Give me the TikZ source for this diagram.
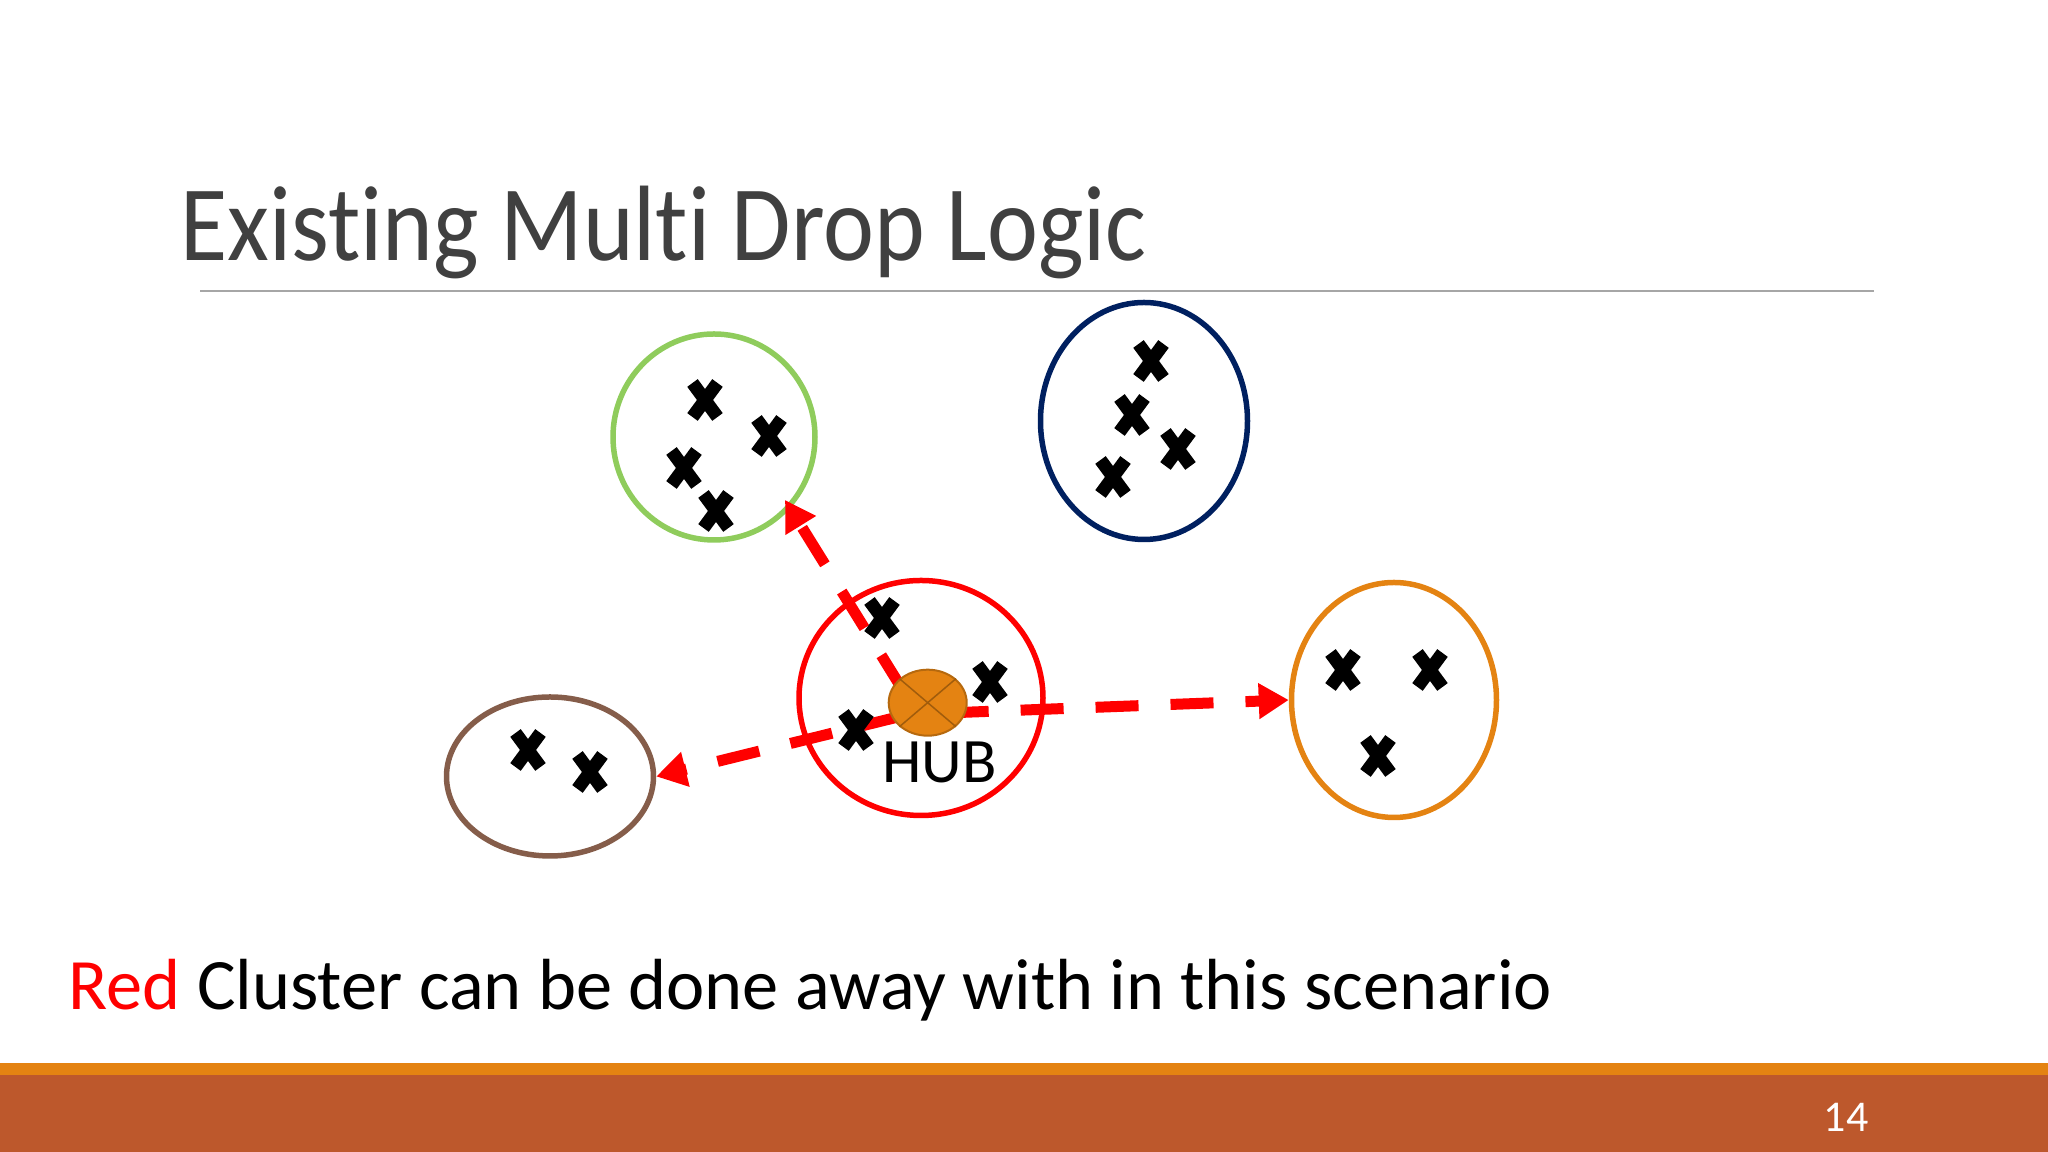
\documentclass[tikz,border=0pt]{standalone}
\usepackage{fontspec}
\setmainfont[Ligatures=NoCommon]{Carlito}
\newfontfamily\titlefont[Ligatures=NoCommon,FakeStretch=.9]{Carlito}
\usetikzlibrary{arrows.meta,shapes.geometric,shapes.misc,backgrounds}
\definecolor{barorange}{HTML}{E48312}
\definecolor{barrust}{HTML}{BD582C}
\definecolor{ringgreen}{HTML}{8FCC5C}
\definecolor{ringnavy}{HTML}{002060}
\definecolor{ringbrown}{HTML}{855D4A}
\definecolor{titlegray}{HTML}{404040}
\tikzset{
  clusterring/.style={draw, ellipse, inner sep=0pt, line width=.055cm},
  crossmark/.style={draw=black, cross out, inner sep=0pt, line width=.13cm,
    minimum width=.12cm, minimum height=.21cm},
  droparrow/.style={red, line width=.11cm, dash pattern=on .43cm off .32cm,
    -{Triangle[length=.3cm,width=.34cm]}}
}
\begin{document}
\begin{tikzpicture}
  \useasboundingbox (0,0) rectangle (20.48,11.52);

  % barra inferior
  \fill[barrust] (0,0) rectangle (20.48,.77);
  \fill[barorange] (0,.77) rectangle (20.48,.89);
  \node[anchor=base, white, font=\fontsize{12.5}{15}\selectfont] (pagenum) at (18.46,.2) {14};

  % titulo
  \node[anchor=base west, inner sep=0pt, titlegray, font=\titlefont\fontsize{30.5}{36}\selectfont] (title) at (1.8,8.91) {Existing Multi Drop Logic};
  \draw[gray!70, line width=.015cm] (2,8.61) -- (18.74,8.61);

  % clusters
  \begin{scope}[on background layer]
    \node[clusterring, draw=ringgreen, minimum width=2.02cm, minimum height=2.06cm] (green) at (7.14,7.15) {};
    \node[clusterring, draw=ringnavy, minimum width=2.07cm, minimum height=2.37cm] (navy) at (11.44,7.31) {};
    \node[clusterring, draw=red, minimum width=2.44cm, minimum height=2.35cm] (redring) at (9.21,4.54) {};
    \node[clusterring, draw=barorange, minimum width=2.05cm, minimum height=2.35cm] (orange) at (13.94,4.52) {};
    \node[clusterring, draw=ringbrown, minimum width=2.07cm, minimum height=1.59cm] (brown) at (5.5,3.755) {};
  \end{scope}
  \coordinate (greentip) at (7.85,6.52);

  % hub
  \node[ellipse, fill=barorange, draw=barorange!80!black, line width=.02cm, inner sep=0pt,
    minimum width=.78cm, minimum height=.66cm] (hub) at (9.277,4.493) {};
  \draw[barorange!70!black, line width=.015cm] (hub.north west) -- (hub.south east);
  \draw[barorange!70!black, line width=.015cm] (hub.north east) -- (hub.south west);
  \node[anchor=base, inner sep=0pt, font=\fontsize{18}{22}\selectfont] (hublabel) at (9.395,3.69) {HUB};

  % setas
  \begin{scope}[on background layer]
    \draw[droparrow, dash phase=.54cm] ([xshift=-.127cm,yshift=-.07cm]hub.center) -- (greentip);
    \draw[droparrow, dash phase=.57cm] ([yshift=-.11cm]hub.center) -- (orange.west);
    \draw[droparrow, dash phase=.516cm] ([yshift=-.07cm]hub.center) -- (brown.east);
  \end{scope}

  % pontos
  \foreach \px/\py [count=\i] in {7.05/7.52, 7.69/7.16, 6.84/6.84, 7.16/6.41,
      11.51/7.91, 11.32/7.37, 11.78/7.03, 11.13/6.75,
      8.82/5.34, 9.9/4.7, 8.56/4.22,
      13.43/4.82, 14.3/4.82, 13.78/3.96,
      5.28/4.02, 5.9/3.8}
    \node[crossmark] (pt\i) at (\px,\py) {};

  % legenda
  \node[anchor=base west, inner sep=0pt, font=\fontsize{20.6}{24}\selectfont] (caption) at (.68,1.42) {\textcolor{red}{Red} Cluster can be done away with in this scenario};
\end{tikzpicture}
\end{document}
